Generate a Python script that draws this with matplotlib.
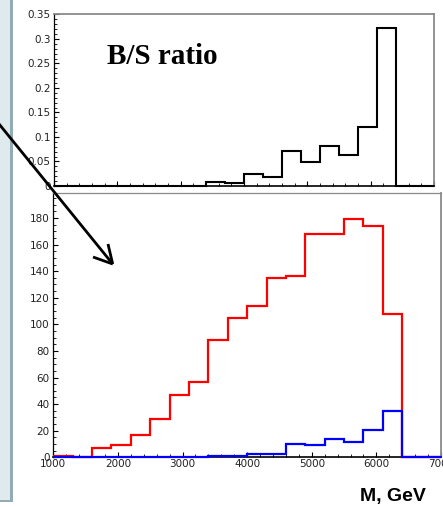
import matplotlib
matplotlib.use("Agg")
import matplotlib.pyplot as plt
from matplotlib.lines import Line2D
from matplotlib.patches import Rectangle
from matplotlib.ticker import MultipleLocator, FuncFormatter

# ── Data ────────────────────────────────────────────────────────────────────
edges = [1000, 1300, 1600, 1900, 2200, 2500, 2800, 3100, 3400, 3700, 4000,
         4300, 4600, 4900, 5200, 5500, 5800, 6100, 6400, 6700, 7000]
signal = [1, 0, 7, 9, 17, 29, 47, 57, 88, 105, 114, 135, 136, 168, 168,
          179, 174, 108, 0, 0]
background = [0, 0, 0, 0, 0, 0, 0, 0, 0.8, 0.8, 2.8, 2.8, 10.3, 9, 14,
              11.8, 20.8, 35, 0, 0]
bs_ratio = [0, 0, 0, 0, 0, 0, 0, 0, 0.0088, 0.0068, 0.0245, 0.019, 0.072,
            0.0497, 0.0816, 0.064, 0.12, 0.3224, 0, 0]

W, H = 443, 507
TICK_FONT = dict(family="DejaVu Sans", size=7.5)
FRAME_GRAY = "#8a8a8a"


def fx(px):
    return px / W


def fy(py):
    return 1 - py / H


def style_axes(ax):
    ax.tick_params(which="both", direction="in", top=False, right=False,
                   colors="black", labelcolor="#222222", labelsize=7.5, pad=2.5)
    ax.tick_params(which="major", length=3.5, width=0.8)
    ax.tick_params(which="minor", length=2, width=0.6)
    for lab in ax.get_xticklabels() + ax.get_yticklabels():
        lab.set_family(TICK_FONT["family"])
    ax.spines["top"].set_color(FRAME_GRAY)
    ax.spines["right"].set_color(FRAME_GRAY)
    ax.spines["top"].set_linewidth(1.3)
    ax.spines["right"].set_linewidth(1.3)
    ax.spines["left"].set_linewidth(0.9)
    ax.spines["bottom"].set_linewidth(1.2)
    ax.xaxis.set_major_locator(MultipleLocator(1000))
    ax.xaxis.set_minor_locator(MultipleLocator(200))


fig = plt.figure(figsize=(W / 100, H / 100), dpi=100)
fig.patch.set_facecolor("white")

# ── Slide decoration at the left edge ───────────────────────────────────────
fig.patches.append(Rectangle((0, fy(500)), fx(10), 1 - fy(500),
                             transform=fig.transFigure, facecolor="#dfeaee",
                             edgecolor="none", zorder=0))
fig.patches.append(Rectangle((fx(10), fy(500)), fx(2.5), 1 - fy(500),
                             transform=fig.transFigure, facecolor="#93abb2",
                             edgecolor="none", zorder=0))
fig.patches.append(Rectangle((0, fy(501.5)), fx(12.5), fx(2) * W / H,
                             transform=fig.transFigure, facecolor="#93abb2",
                             edgecolor="none", zorder=0))

# ── Top pad: B/S ratio ──────────────────────────────────────────────────────
ax_top = fig.add_axes([fx(54), fy(186), fx(434) - fx(54), fy(14) - fy(186)])
ax_top.stairs(bs_ratio, edges, baseline=None, color="black", lw=1.5,
              clip_on=False, zorder=3)
ax_top.set_xlim(1000, 7000)
ax_top.set_ylim(0, 0.351)
ax_top.yaxis.set_major_locator(MultipleLocator(0.05))
ax_top.yaxis.set_minor_locator(MultipleLocator(0.01))
ax_top.yaxis.set_major_formatter(FuncFormatter(lambda v, p: f"{v:.2f}".rstrip("0").rstrip(".")))
ax_top.set_xticklabels([])
style_axes(ax_top)
ax_top.tick_params(axis="x", labelbottom=False)

# ── Bottom pad: signal / background ─────────────────────────────────────────
ax_bot = fig.add_axes([fx(53.3), fy(457.3), fx(441) - fx(53.3), fy(192.7) - fy(457.3)])
ax_bot.stairs(signal, edges, baseline=None, color="#ff0000", lw=1.6,
              clip_on=False, zorder=3)
ax_bot.stairs(background, edges, baseline=None, color="#0000ff", lw=1.6,
              clip_on=False, zorder=4)
ax_bot.set_xlim(1000, 7000)
ax_bot.set_ylim(0, 199)
ax_bot.yaxis.set_major_locator(MultipleLocator(20))
ax_bot.yaxis.set_minor_locator(MultipleLocator(5))
style_axes(ax_bot)
ax_bot.spines["top"].set_linewidth(0.9)
ax_bot.tick_params(axis="x", pad=1.5)

# ── Annotations ─────────────────────────────────────────────────────────────
fig.text(fx(162), fy(56), "B/S ratio", ha="center", va="center",
         family="Liberation Serif", fontweight="bold", fontsize=21)
fig.text(fx(393), fy(496), "M, GeV", ha="center", va="center",
         family="Liberation Sans", fontweight="bold", fontsize=14)

# arrow from the ratio pad down into the mass plot
tip = (112.7, 264)
for start in [(-5, 119), (93, 257), (108, 244)]:
    fig.lines.append(Line2D([fx(start[0]), fx(tip[0])], [fy(start[1]), fy(tip[1])],
                            transform=fig.transFigure, color="black", lw=2.0,
                            solid_capstyle="butt", zorder=10))

fig.savefig("out.png", dpi=100)
